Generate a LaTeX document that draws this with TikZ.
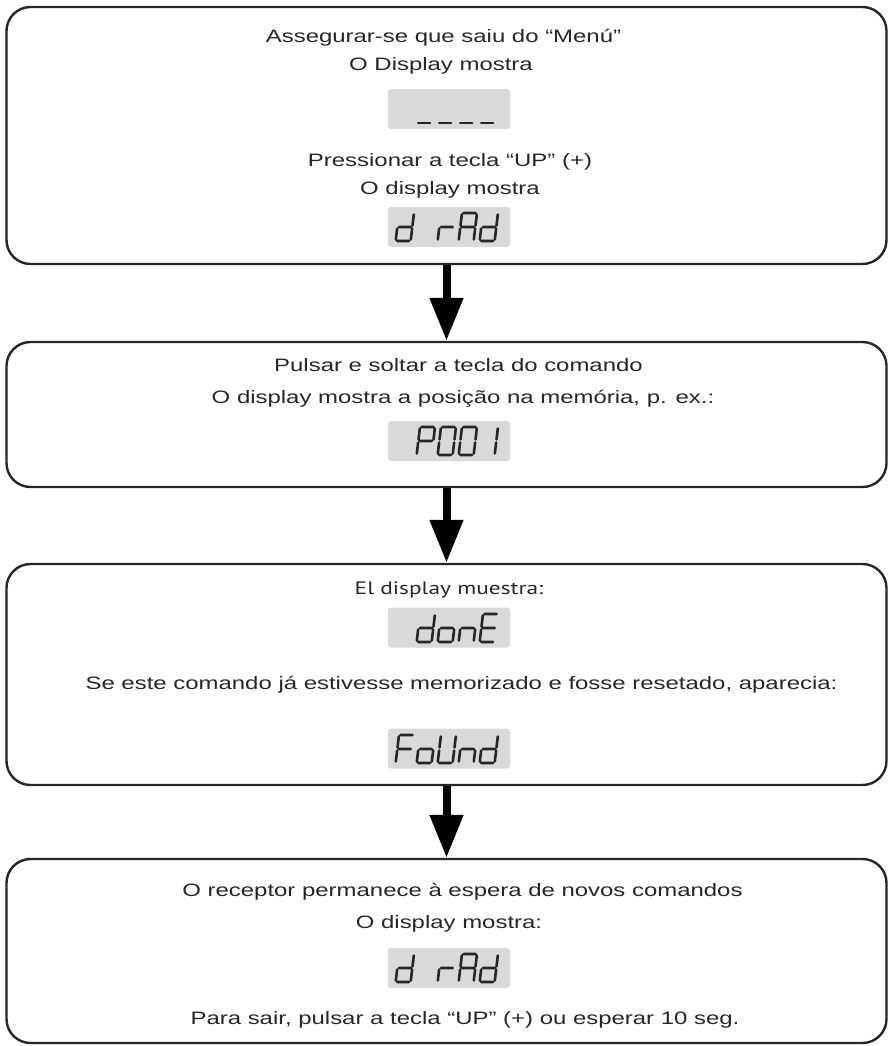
\documentclass[tikz,border=0pt]{standalone}
\usepackage{fontspec}
\usetikzlibrary{arrows.meta}
\newfontfamily\stepfont[FakeStretch=1.33]{Liberation Sans}
\newfontfamily\esfont[FakeStretch=1.3]{PT Sans}
\definecolor{ink}{HTML}{262626}
\definecolor{lcdgrey}{HTML}{D9D9D9}

% seven segment pieces (y grows downwards)
\def\sega{(1.5,0) -- (13.5,0)}
\def\segb{(15,1.5) -- (15,12.5)}
\def\segc{(15,15.5) -- (15,26.5)}
\def\segd{(1.5,28) -- (13.5,28)}
\def\sege{(0,15.5) -- (0,26.5)}
\def\segf{(0,1.5) -- (0,12.5)}
\def\segg{(1.5,14) -- (13.5,14)}
\newcommand\defglyph[2]{\expandafter\def\csname lcdglyph#1\endcsname{#2}}
\defglyph{x}{(0,0)}
\defglyph{-}{\segd}
\defglyph{d}{\segb \segc \segd \sege \segg}
\defglyph{r}{\sege \segg}
\defglyph{A}{\sega \segb \segc \sege \segf \segg}
\defglyph{P}{\sega \segb \sege \segf \segg}
\defglyph{0}{\sega \segb \segc \segd \sege \segf}
\defglyph{1}{\segb \segc}
\defglyph{o}{\segc \segd \sege \segg}
\defglyph{n}{\segc \sege \segg}
\defglyph{E}{\sega \segd \sege \segf \segg}
\defglyph{F}{\sega \sege \segf \segg}
\defglyph{U}{\segb \segc \segd \sege \segf}
\newcommand\lcdtext[3]{%
  \foreach \ch [count=\k from 0] in {#3} {%
    \expandafter\let\expandafter\curglyph\csname lcdglyph\ch\endcsname
    \draw[lcdseg, shift={({#1+21*\k},#2)}, xslant=0.12] \curglyph;
  }}

\tikzset{
  stepbox/.style={draw=ink, line width=2.4pt, rounded corners=24pt,
    minimum width=880pt, inner sep=0pt},
  lcd/.style={fill=lcdgrey, rounded corners=3pt, minimum width=122pt,
    minimum height=40pt, inner sep=0pt},
  lcdseg/.style={draw=ink, line width=2.6pt, line cap=round},
  flow/.style={draw=black, line width=8pt, -{Triangle[width=32pt,length=43pt]}},
  txt/.style={font=\stepfont\fontsize{18}{22}\selectfont, text=ink,
    anchor=base, inner sep=0pt}
}

\begin{document}
\begin{tikzpicture}[x=1pt, y=-1pt]
    \useasboundingbox (0,0) rectangle (889,1046);
    % steps
    \node[stepbox, minimum height=257pt] (box1) at (446.5,135.5) {};
    \node[stepbox, minimum height=145pt] (box2) at (446.5,414.5) {};
    \node[stepbox, minimum height=221pt] (box3) at (446.5,674.5) {};
    \node[stepbox, minimum height=184pt] (box4) at (446.5,951) {};
    \draw[flow] (box1.south) -- (box2.north);
    \draw[flow] (box2.south) -- (box3.north);
    \draw[flow] (box3.south) -- (box4.north);
    % step 1
    \node[txt] (t1a) at (443.5,43) {Assegurar-se que saiu do “Menú”};
    \node[txt] (t1b) at (441,71) {O Display mostra};
    \node[lcd] (disp1) at (449,109) {};
    \lcdtext{399}{95}{x,-,-,-,-}
    \node[txt] (t1c) at (450,166) {Pressionar a tecla “UP” (+)};
    \node[txt] (t1d) at (450,194) {O display mostra};
    \node[lcd] (disp2) at (449,227) {};
    \lcdtext{399}{213}{d,x,r,A,d}
    % step 2
    \node[txt] (t2a) at (458.5,371) {Pulsar e soltar a tecla do comando};
    \node[txt] (t2b) at (463,403) {O display mostra a posição na memória, p. ex.:};
    \node[lcd] (disp3) at (449,441) {};
    \lcdtext{399}{427}{x,P,0,0,1}
    % step 3
    \node[txt, font=\esfont\fontsize{18}{22}\selectfont] (t3a) at (449,594) {El display muestra:};
    \node[lcd] (disp4) at (449,627.5) {};
    \lcdtext{399}{614}{x,d,o,n,E}
    \node[txt] (t3b) at (461.5,689) {Se este comando já estivesse memorizado e fosse resetado, aparecia:};
    \node[lcd] (disp5) at (449,748.5) {};
    \lcdtext{399}{735}{F,o,U,n,d}
    % step 4
    \node[txt] (t4a) at (462.5,896) {O receptor permanece à espera de novos comandos};
    \node[txt] (t4b) at (449,928) {O display mostra:};
    \node[lcd] (disp6) at (449,968) {};
    \lcdtext{399}{954}{d,x,r,A,d}
    \node[txt] (t4c) at (465,1024) {Para sair, pulsar a tecla “UP” (+) ou esperar 10 seg.};
\end{tikzpicture}
\end{document}
